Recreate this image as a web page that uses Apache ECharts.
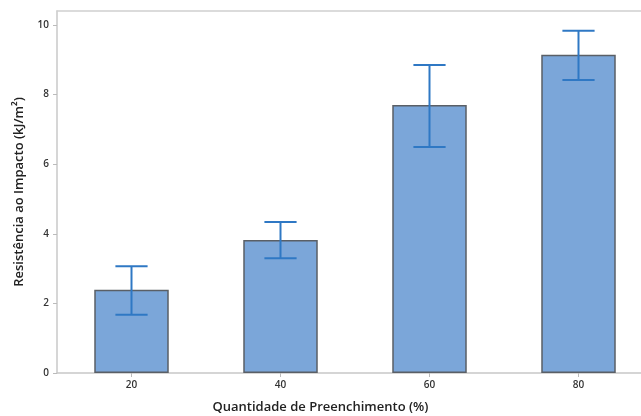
<!DOCTYPE html>
<html><head><meta charset="utf-8">
<script src="https://cdn.jsdelivr.net/npm/echarts@6/dist/echarts.min.js"></script>
<style>html,body{margin:0;padding:0;background:#fff}#c{width:641px;height:416px}</style>
</head><body><div id="c"></div>
<script>
const categories = ['20', '40', '60', '80'];
const means = [2.39, 3.82, 7.70, 9.14];
const errLow = [1.67, 3.30, 6.49, 8.42];
const errHigh = [3.07, 4.34, 8.85, 9.83];
const yTicks = [0, 2, 4, 6, 8, 10];

const chart = echarts.init(document.getElementById('c'));
const font = '"Open Sans", "Liberation Sans", sans-serif';
chart.setOption({
  animation: false,
  title: {
    text: 'Quantidade de Preenchimento (%)',
    left: 'center', top: 396,
    textStyle: { fontFamily: font, fontSize: 13, fontWeight: 600, color: '#222' }
  },
  grid: { left: 57, top: 11, width: 596, bottom: 43, outerBoundsMode: 'none', containLabel: false, show: false },
  xAxis: [{
    type: 'category', data: categories,
    axisLine: { show: true, lineStyle: { color: '#c8c8c8', width: 1.5 } },
    axisTick: { show: true, alignWithLabel: true, length: 4, lineStyle: { color: '#bbb' } },
    axisLabel: { fontFamily: font, fontSize: 10, fontWeight: 600, color: '#333', margin: 7 }
  }, {
    type: 'category', data: categories, position: 'top',
    axisLine: { show: true, lineStyle: { color: '#cfcfcf', width: 1.5 } },
    axisTick: { show: false }, axisLabel: { show: false }
  }],
  yAxis: {
    type: 'value', min: 0, max: 10.4,
    name: 'Resistência ao Impacto (kJ/m²)', nameLocation: 'middle', nameGap: 31,
    nameTextStyle: { fontFamily: font, fontSize: 13, fontWeight: 600, color: '#222' },
    splitLine: { show: false },
    axisLine: { show: true, lineStyle: { color: '#c8c8c8', width: 1.5 } },
    axisTick: { show: true, length: 4, customValues: yTicks, lineStyle: { color: '#bbb' } },
    axisLabel: { fontFamily: font, fontSize: 10, fontWeight: 600, color: '#333', margin: 8, customValues: yTicks }
  },
  series: [
    {
      type: 'bar', data: means, barWidth: '50%',
      itemStyle: { color: '#7ba6d9', borderColor: '#5a5f66', borderWidth: 1.5 }
    },
    {
      type: 'custom',
      data: categories.map((c, i) => [i, errLow[i], errHigh[i]]),
      renderItem: function (params, api) {
        const lo = api.coord([api.value(0), api.value(1)]);
        const hi = api.coord([api.value(0), api.value(2)]);
        const half = api.size([1, 0])[0] * 0.108;
        const st = { stroke: '#2f78c4', lineWidth: 2 };
        return {
          type: 'group',
          children: [
            { type: 'line', shape: { x1: lo[0], y1: lo[1], x2: hi[0], y2: hi[1] }, style: st },
            { type: 'line', shape: { x1: lo[0] - half, y1: lo[1], x2: lo[0] + half, y2: lo[1] }, style: st },
            { type: 'line', shape: { x1: hi[0] - half, y1: hi[1], x2: hi[0] + half, y2: hi[1] }, style: st }
          ]
        };
      },
      z: 10
    }
  ]
});
</script></body></html>
